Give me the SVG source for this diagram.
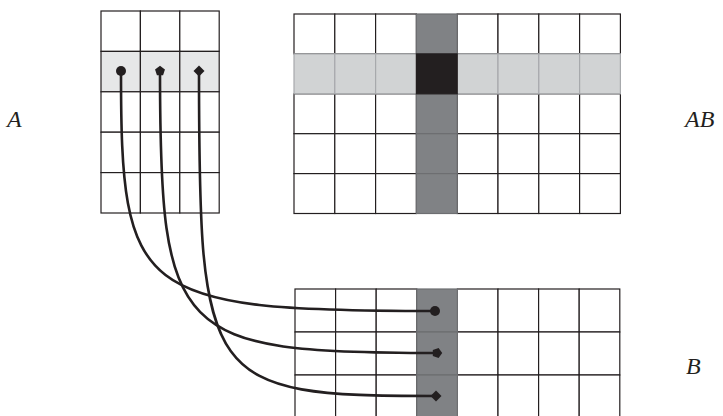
<svg xmlns="http://www.w3.org/2000/svg" xmlns:xlink="http://www.w3.org/1999/xlink" width="723" height="416" viewBox="0 0 723 416">
<style>
.cell{fill:#ffffff;stroke:#231f20;stroke-width:1.2}
.lrow{fill:#e6e7e8;stroke:#231f20;stroke-width:1.2}
.grow{fill:#d1d3d4;stroke:#a7a9ac;stroke-width:1.2}
.dcol{fill:#808285;stroke:#6d6e71;stroke-width:1.2}
.blk{fill:#231f20;stroke:#231f20;stroke-width:1.2}
.wire{fill:none;stroke:#231f20;stroke-width:2.6;stroke-linecap:round}
.mk{fill:#231f20}
.lbl{font-family:"Liberation Serif","DejaVu Serif",serif;font-style:italic;font-size:24px;fill:#231f20}
</style>
<defs>
<circle id="mcirc" class="mk" cx="0" cy="0" r="5"/>
<polygon id="mpent" class="mk" points="0,-5.2 4.95,-1.6 3.06,4.2 -3.06,4.2 -4.95,-1.6"/>
<polygon id="mdiam" class="mk" points="0,-5.5 5.5,0 0,5.5 -5.5,0"/>
</defs>
<rect width="723" height="416" fill="#ffffff"/>

<g id="matrix-A">
<rect class="cell" x="101" y="11" width="39.4" height="40.4"/>
<rect class="cell" x="140.4" y="11" width="39.4" height="40.4"/>
<rect class="cell" x="179.8" y="11" width="39.4" height="40.4"/>
<rect class="lrow" x="101" y="51.4" width="39.4" height="40.4"/>
<rect class="lrow" x="140.4" y="51.4" width="39.4" height="40.4"/>
<rect class="lrow" x="179.8" y="51.4" width="39.4" height="40.4"/>
<rect class="cell" x="101" y="91.8" width="39.4" height="40.4"/>
<rect class="cell" x="140.4" y="91.8" width="39.4" height="40.4"/>
<rect class="cell" x="179.8" y="91.8" width="39.4" height="40.4"/>
<rect class="cell" x="101" y="132.2" width="39.4" height="40.4"/>
<rect class="cell" x="140.4" y="132.2" width="39.4" height="40.4"/>
<rect class="cell" x="179.8" y="132.2" width="39.4" height="40.4"/>
<rect class="cell" x="101" y="172.6" width="39.4" height="40.4"/>
<rect class="cell" x="140.4" y="172.6" width="39.4" height="40.4"/>
<rect class="cell" x="179.8" y="172.6" width="39.4" height="40.4"/>
</g>

<g id="matrix-AB">
<g>
<rect class="cell" x="294" y="14" width="40.8" height="39.9"/>
<rect class="cell" x="334.8" y="14" width="40.8" height="39.9"/>
<rect class="cell" x="375.6" y="14" width="40.8" height="39.9"/>
<rect class="cell" x="457.2" y="14" width="40.8" height="39.9"/>
<rect class="cell" x="498" y="14" width="40.8" height="39.9"/>
<rect class="cell" x="538.8" y="14" width="40.8" height="39.9"/>
<rect class="cell" x="579.6" y="14" width="40.8" height="39.9"/>
<rect class="cell" x="294" y="93.8" width="40.8" height="39.9"/>
<rect class="cell" x="334.8" y="93.8" width="40.8" height="39.9"/>
<rect class="cell" x="375.6" y="93.8" width="40.8" height="39.9"/>
<rect class="cell" x="457.2" y="93.8" width="40.8" height="39.9"/>
<rect class="cell" x="498" y="93.8" width="40.8" height="39.9"/>
<rect class="cell" x="538.8" y="93.8" width="40.8" height="39.9"/>
<rect class="cell" x="579.6" y="93.8" width="40.8" height="39.9"/>
<rect class="cell" x="294" y="133.7" width="40.8" height="39.9"/>
<rect class="cell" x="334.8" y="133.7" width="40.8" height="39.9"/>
<rect class="cell" x="375.6" y="133.7" width="40.8" height="39.9"/>
<rect class="cell" x="457.2" y="133.7" width="40.8" height="39.9"/>
<rect class="cell" x="498" y="133.7" width="40.8" height="39.9"/>
<rect class="cell" x="538.8" y="133.7" width="40.8" height="39.9"/>
<rect class="cell" x="579.6" y="133.7" width="40.8" height="39.9"/>
<rect class="cell" x="294" y="173.6" width="40.8" height="39.9"/>
<rect class="cell" x="334.8" y="173.6" width="40.8" height="39.9"/>
<rect class="cell" x="375.6" y="173.6" width="40.8" height="39.9"/>
<rect class="cell" x="457.2" y="173.6" width="40.8" height="39.9"/>
<rect class="cell" x="498" y="173.6" width="40.8" height="39.9"/>
<rect class="cell" x="538.8" y="173.6" width="40.8" height="39.9"/>
<rect class="cell" x="579.6" y="173.6" width="40.8" height="39.9"/>
</g>
<g>
<rect class="grow" x="294" y="53.9" width="40.8" height="39.9"/>
<rect class="grow" x="334.8" y="53.9" width="40.8" height="39.9"/>
<rect class="grow" x="375.6" y="53.9" width="40.8" height="39.9"/>
<rect class="grow" x="457.2" y="53.9" width="40.8" height="39.9"/>
<rect class="grow" x="498" y="53.9" width="40.8" height="39.9"/>
<rect class="grow" x="538.8" y="53.9" width="40.8" height="39.9"/>
<rect class="grow" x="579.6" y="53.9" width="40.8" height="39.9"/>
</g>
<g>
<rect class="dcol" x="416.4" y="14" width="40.8" height="39.9"/>
<rect class="dcol" x="416.4" y="93.8" width="40.8" height="39.9"/>
<rect class="dcol" x="416.4" y="133.7" width="40.8" height="39.9"/>
<rect class="dcol" x="416.4" y="173.6" width="40.8" height="39.9"/>
<rect class="blk" x="416.4" y="53.9" width="40.8" height="39.9"/>
</g>
</g>

<g id="matrix-B">
<rect class="cell" x="295" y="289" width="40.6" height="43"/>
<rect class="cell" x="335.6" y="289" width="40.6" height="43"/>
<rect class="cell" x="376.2" y="289" width="40.6" height="43"/>
<rect class="cell" x="457.4" y="289" width="40.6" height="43"/>
<rect class="cell" x="498" y="289" width="40.6" height="43"/>
<rect class="cell" x="538.6" y="289" width="40.6" height="43"/>
<rect class="cell" x="579.2" y="289" width="40.6" height="43"/>
<rect class="cell" x="295" y="332" width="40.6" height="43"/>
<rect class="cell" x="335.6" y="332" width="40.6" height="43"/>
<rect class="cell" x="376.2" y="332" width="40.6" height="43"/>
<rect class="cell" x="457.4" y="332" width="40.6" height="43"/>
<rect class="cell" x="498" y="332" width="40.6" height="43"/>
<rect class="cell" x="538.6" y="332" width="40.6" height="43"/>
<rect class="cell" x="579.2" y="332" width="40.6" height="43"/>
<rect class="cell" x="295" y="375" width="40.6" height="43"/>
<rect class="cell" x="335.6" y="375" width="40.6" height="43"/>
<rect class="cell" x="376.2" y="375" width="40.6" height="43"/>
<rect class="cell" x="457.4" y="375" width="40.6" height="43"/>
<rect class="cell" x="498" y="375" width="40.6" height="43"/>
<rect class="cell" x="538.6" y="375" width="40.6" height="43"/>
<rect class="cell" x="579.2" y="375" width="40.6" height="43"/>
<rect class="dcol" x="416.8" y="289" width="40.6" height="43"/>
<rect class="dcol" x="416.8" y="332" width="40.6" height="43"/>
<rect class="dcol" x="416.8" y="375" width="40.6" height="43"/>
</g>

<g id="labels">
<text class="lbl" x="7" y="126.5">A</text>
<text class="lbl" x="685" y="126.5">AB</text>
<text class="lbl" x="686" y="374">B</text>
</g>

<g id="connectors">
<path class="wire" d="M121,71 C121,295 135,311 435,311"/>
<path class="wire" d="M160,71 C160,338 175,353 437,353"/>
<path class="wire" d="M199,71 C199,385 205,396 436,396"/>
<use xlink:href="#mcirc" x="121" y="71"/>
<use xlink:href="#mpent" x="160" y="71"/>
<use xlink:href="#mdiam" x="199" y="71"/>
<use xlink:href="#mcirc" x="435" y="311"/>
<use xlink:href="#mpent" transform="translate(437,353) rotate(90)"/>
<use xlink:href="#mdiam" x="436" y="396"/>
</g>
</svg>
